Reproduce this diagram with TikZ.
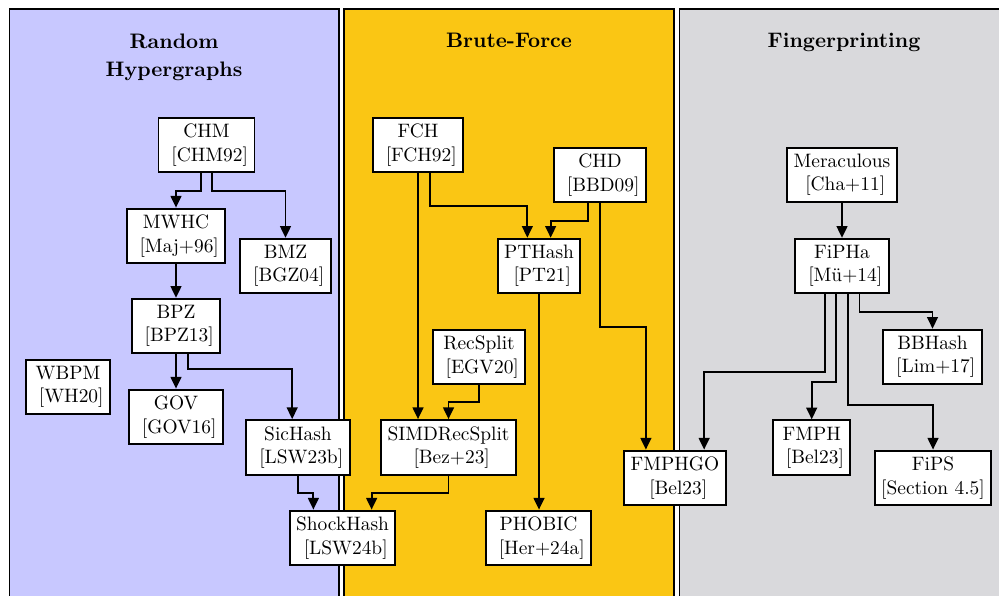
\documentclass[tikz,border=0pt]{standalone}
\usepackage{tikz}
\usetikzlibrary{arrows.meta, positioning}
\definecolor{hypergraph}{RGB}{200,200,255}
\definecolor{bruteforce}{RGB}{250,198,20}
\definecolor{fingerprint}{RGB}{217,217,220}

\begin{document}
\begin{tikzpicture}[
    x=0.515pt, y=-0.515pt,
    column/.style={draw, line width=1pt},
    heading/.style={font=\fontsize{10.8}{14}\selectfont\bfseries, align=center, inner sep=0pt},
    method/.style={draw, line width=1pt, fill=white, align=center, inner sep=3.33pt},
    arrow/.style={-{Triangle[length=6pt, width=5.5pt]}, line width=1pt}
]

\useasboundingbox (0,0) rectangle (999,596);
\clip (0,0) rectangle (999,596);

% Spalten
\draw[column, fill=hypergraph] (9.5,9) rectangle (339,640);
\draw[column, fill=bruteforce] (344,9) rectangle (674,640);
\draw[column, fill=fingerprint] (679.5,9) rectangle (1010,640);

\node[heading, anchor=north] (thyper) at (174, 34) {Random\\Hypergraphs};
\node[heading, anchor=base] (tbrute) at (509, 48) {Brute-Force};
\node[heading, anchor=base] (tfinger) at (844, 48) {Fingerprinting};

% Random Hypergraphs
\node[method] (chm) at (206.5, 145) {CHM\\\ [CHM92]};
\node[method] (mwhc) at (176, 236) {MWHC\\\ [Maj+96]};
\node[method] (bmz) at (285.5, 266) {BMZ\\\ [BGZ04]};
\node[method] (bpz) at (176, 326) {BPZ\\\ [BPZ13]};
\node[method] (wbpm) at (68, 387) {WBPM\\\ [WH20]};
\node[method] (gov) at (176, 417) {GOV\\\ [GOV16]};
\node[method] (sichash) at (298, 447.5) {SicHash\\\ [LSW23b]};
\node[method] (shockhash) at (342.5, 538) {ShockHash\\\ [LSW24b]};

% Brute-Force
\node[method] (fch) at (418, 145) {FCH\\\ [FCH92]};
\node[method] (chd) at (600, 175) {CHD\\\ [BBD09]};
\node[method] (pthash) at (539, 266) {PTHash\\\ [PT21]};
\node[method] (recsplit) at (479, 357) {RecSplit\\\ [EGV20]};
\node[method] (simdrecsplit) at (448.5, 447.5) {SIMDRecSplit\\\ [Bez+23]};
\node[method] (phobic) at (538.5, 538) {PHOBIC\\\ [Her+24a]};
\node[method] (fmphgo) at (675, 478) {FMPHGO\\\ [Bel23]};

% Fingerprinting
\node[method] (meraculous) at (842, 175) {Meraculous\\\ [Cha+11]};
\node[method] (fipha) at (842, 266) {FiPHa\\\ [M\"u+14]};
\node[method] (bbhash) at (932.5, 357) {BBHash\\\ [Lim+17]};
\node[method] (fmph) at (811.7, 447.5) {FMPH\\\ [Bel23]};
\node[method] (fips) at (933, 478) {FiPS\\{}[Section 4.5]};

% Verbindungen
\draw[arrow] ([xshift=-3pt]chm.south) -- ++(0,18) -| (mwhc.north);
\draw[arrow] ([xshift=3pt]chm.south) -- ++(0,18) -| (bmz.north);
\draw[arrow] (mwhc.south) -- (bpz.north);
\draw[arrow] (bpz.south) -- (gov.north);
\draw[arrow] ([xshift=6pt]bpz.south) -- ++(0,15) -| ([xshift=-3pt]sichash.north);
\draw[arrow] (sichash.south) -- ++(0,17) -| ([xshift=-15pt]shockhash.north);

\draw[arrow] (fch.south) -- (fch.south |- simdrecsplit.north);
\draw[arrow] ([xshift=6pt]fch.south) -- ++(0,33) -| ([xshift=-6pt]pthash.north);
\draw[arrow] ([xshift=-6pt]chd.south) -- ++(0,18) -| ([xshift=6pt]pthash.north);
\draw[arrow] (chd.south) -- ++(0,124) -| ([xshift=-15pt]fmphgo.north);
\draw[arrow] (recsplit.south) -- ++(0,17) -| (simdrecsplit.north);
\draw[arrow] (simdrecsplit.south) -- ++(0,17) -| ([xshift=15pt]shockhash.north);
\draw[arrow] (pthash.south) -- (pthash.south |- phobic.north);

\draw[arrow] (meraculous.south) -- (fipha.north);
\draw[arrow] ([xshift=9pt]fipha.south) -- ++(0,18) -| (bbhash.north);
\draw[arrow] ([xshift=-9pt]fipha.south) -- ++(0,78) -| ([xshift=15pt]fmphgo.north);
\draw[arrow] ([xshift=-3pt]fipha.south) -- ++(0,88) -| (fmph.north);
\draw[arrow] ([xshift=3pt]fipha.south) -- ++(0,111) -| (fips.north);

\end{tikzpicture}
\end{document}
